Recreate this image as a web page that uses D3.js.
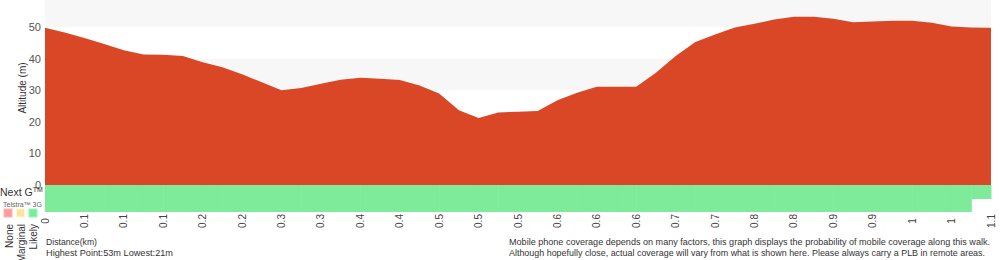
<!DOCTYPE html>
<html>
<head>
<meta charset="utf-8">
<script src="https://cdn.jsdelivr.net/npm/d3@7"></script>
<style>
  body { margin: 0; background: #fff; }
  svg text { font-family: "Liberation Sans", Arial, sans-serif; fill: #333; }
</style>
</head>
<body>
<svg id="chart"></svg>
<script>
// tick labels along the walk (one per axis slot)
const distLabels = ['0','0.1','0.1','0.1','0.2','0.2','0.3','0.3','0.4','0.4','0.5','0.5','0.5',
                    '0.6','0.6','0.6','0.7','0.7','0.8','0.8','0.9','0.9','1','1','1.1'];

// altitude samples, every half slot
const altitude = [49.7, 48.2, 46.5, 44.6, 42.6, 41.3, 41.2, 40.8, 38.8, 37.2,
                  35.0, 32.5, 30.0, 30.7, 32.0, 33.3, 33.9, 33.6, 33.2, 31.5,
                  28.9, 23.6, 21.2, 22.9, 23.2, 23.4, 26.8, 29.2, 31.1, 31.1,
                  31.1, 35.5, 40.8, 45.2, 47.6, 49.8, 51.0, 52.3, 53.2, 53.2,
                  52.6, 51.5, 51.7, 51.9, 51.9, 51.3, 50.1, 49.8, 49.7];

const yTicks = [0, 10, 20, 30, 40, 50];

// coverage: 2 = likely, 1 = marginal, 0 = none, null = no data (per half slot segment)
const nextG = d3.range(48).map(() => 2);
const telstra3G = d3.range(48).map((d, i) => i < 47 ? 2 : null);

const coverageColors = ['#ff9c9c', '#ffe1a3', '#7deb9a'];
const coverageNames = ['None', 'Marginal', 'Likely'];

const width = 1000, height = 260;
const margin = {left: 45, right: 9, top: 0};
const plotBottom = 185;

const svg = d3.select('#chart').attr('width', width).attr('height', height);

const xScale = d3.scaleLinear()
    .domain([0, distLabels.length - 1])
    .range([margin.left, width - margin.right]);

const xAxisScale = d3.scalePoint()
    .domain(d3.range(distLabels.length))
    .range(xScale.range());

const yScale = d3.scaleLinear()
    .domain([0, 58.5])
    .range([plotBottom, margin.top]);

// background bands
const bands = d3.range(0, 60, 10);
svg.selectAll('.band')
    .data(bands)
  .join('rect')
    .attr('class', 'band')
    .attr('x', xScale(0))
    .attr('width', xScale.range()[1] - xScale(0))
    .attr('y', d => yScale(Math.min(d + 10, 58.5)))
    .attr('height', d => yScale(d) - yScale(Math.min(d + 10, 58.5)))
    .attr('fill', d => (d / 10) % 2 === 1 ? '#f7f7f7' : '#ffffff');

// elevation area
const area = d3.area()
    .x((d, i) => xScale(i / 2))
    .y0(yScale(0))
    .y1(d => yScale(d));

svg.append('path')
    .datum(altitude)
    .attr('d', area)
    .attr('fill', '#d94727');

// y axis
const yAxis = d3.axisLeft(yScale).tickValues(yTicks).tickSize(0).tickPadding(4);
const yAxisG = svg.append('g')
    .attr('transform', `translate(${margin.left},0)`)
    .call(yAxis);
yAxisG.select('.domain').remove();
yAxisG.selectAll('text')
    .style('font-size', '11px')
    .style('fill', '#555')
    .attr('font-family', null);

svg.append('text')
    .attr('transform', `translate(26,88) rotate(-90)`)
    .attr('text-anchor', 'middle')
    .style('font-size', '10px')
    .text('Altitude (m)');

// coverage rows
const rows = [
  {name: 'nextg', data: nextG, y0: 185, y1: 199},
  {name: '3g', data: telstra3G, y0: 199, y1: 212}
];
rows.forEach(r => {
  svg.selectAll('.cov-' + r.name)
      .data(r.data.map((v, i) => ({v, i})).filter(d => d.v !== null))
    .join('rect')
      .attr('class', 'cov-' + r.name)
      .attr('x', d => xScale(d.i / 2))
      .attr('width', d => xScale((d.i + 1) / 2) - xScale(d.i / 2) + 0.5)
      .attr('y', r.y0)
      .attr('height', r.y1 - r.y0)
      .attr('fill', d => coverageColors[d.v]);
});

// x axis labels
const xAxisG = svg.append('g');
xAxisG.selectAll('text')
    .data(distLabels)
  .join('text')
    .attr('transform', (d, i) => `translate(${xAxisScale(i) + 3.5},221) rotate(-90)`)
    .attr('text-anchor', 'middle')
    .style('font-size', '10px')
    .style('fill', '#444')
    .text(d => d);

// legend on the left
const nextGText = svg.append('text')
    .attr('x', 0).attr('y', 196)
    .style('font-size', '10.5px');
nextGText.append('tspan').text('Next G');
nextGText.append('tspan').attr('dy', -4).style('font-size', '7px').text('TM');

svg.append('text')
    .attr('x', 3).attr('y', 207)
    .style('font-size', '7px')
    .style('fill', '#666')
    .text('Telstra™ 3G');

svg.selectAll('.swatch')
    .data(coverageColors)
  .join('rect')
    .attr('class', 'swatch')
    .attr('x', (d, i) => 4 + i * 12.5)
    .attr('y', 209)
    .attr('width', 8)
    .attr('height', 8)
    .attr('fill', d => d)
    .attr('stroke', d => d3.color(d).brighter(0.4))
    .attr('stroke-width', 1);

svg.selectAll('.swatch-label')
    .data(coverageNames)
  .join('text')
    .attr('class', 'swatch-label')
    .attr('transform', (d, i) => `translate(${13 + i * 12},224) rotate(-90)`)
    .attr('text-anchor', 'end')
    .style('font-size', '10px')
    .text(d => d);

// footer text
svg.append('text').attr('x', 46).attr('y', 245).style('font-size', '9.5px')
    .attr('textLength', 51).attr('lengthAdjust', 'spacingAndGlyphs').text('Distance(km)');
svg.append('text').attr('x', 46).attr('y', 256).style('font-size', '9.5px')
    .attr('textLength', 127).attr('lengthAdjust', 'spacingAndGlyphs').text('Highest Point:53m Lowest:21m');

svg.append('text').attr('x', 509).attr('y', 245).style('font-size', '9.5px')
    .attr('textLength', 481).attr('lengthAdjust', 'spacingAndGlyphs')
    .text('Mobile phone coverage depends on many factors, this graph displays the probability of mobile coverage along this walk.');
svg.append('text').attr('x', 509).attr('y', 256).style('font-size', '9.5px')
    .attr('textLength', 476).attr('lengthAdjust', 'spacingAndGlyphs')
    .text('Although hopefully close, actual coverage will vary from what is shown here. Please always carry a PLB in remote areas.');
</script>
</body>
</html>
